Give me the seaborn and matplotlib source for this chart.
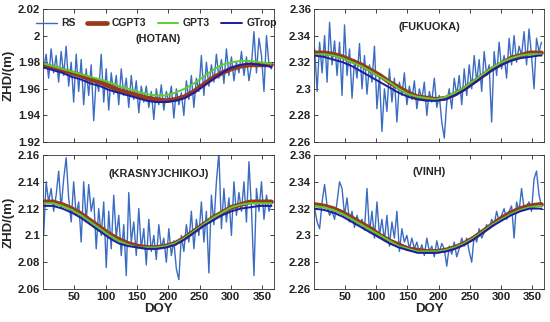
import numpy as np
import pandas as pd
import matplotlib
matplotlib.use("Agg")
import matplotlib.pyplot as plt
from matplotlib.ticker import FuncFormatter, MultipleLocator
import seaborn as sns

sns.set_theme(style="ticks")
plt.rcParams['font.family'] = ['Liberation Sans', 'DejaVu Sans']
plt.rcParams['font.weight'] = 'bold'

# ---------------- data ----------------
rs_days = list(range(1, 366, 4))
model_days = [1, 16, 31, 46, 61, 76, 91, 106, 121, 136, 151, 166, 181, 196,
              211, 226, 241, 256, 271, 286, 301, 316, 331, 346, 361, 365]

stations = ["HOTAN", "FUKUOKA", "KRASNYJCHIKOJ", "VINH"]
ylims = {"HOTAN": (1.92, 2.02), "FUKUOKA": (2.26, 2.36),
         "KRASNYJCHIKOJ": (2.06, 2.16), "VINH": (2.26, 2.36)}

rs_hotan = [1.975, 1.986, 1.968, 1.990, 1.972, 1.985, 1.965, 1.988, 1.970, 1.992,
            1.962, 1.980, 1.950, 1.986, 1.958, 1.982, 1.948, 1.975, 1.955, 1.978,
            1.936, 1.968, 1.958, 1.986, 1.950, 1.975, 1.944, 1.972, 1.956, 1.970,
            1.948, 1.975, 1.955, 1.968, 1.946, 1.970, 1.952, 1.966, 1.942, 1.962,
            1.950, 1.962, 1.946, 1.958, 1.937, 1.960, 1.948, 1.963, 1.944, 1.958,
            1.950, 1.962, 1.938, 1.960, 1.948, 1.957, 1.940, 1.966, 1.952, 1.970,
            1.946, 1.968, 1.958, 1.985, 1.955, 1.980, 1.962, 1.978, 1.965, 1.986,
            1.968, 1.982, 1.964, 1.990, 1.970, 1.984, 1.966, 1.980, 1.972, 1.988,
            1.970, 1.984, 1.966, 1.978, 2.003, 1.972, 1.998, 1.985, 1.958, 2.000,
            1.978, 1.975]
rs_fukuoka = [2.330, 2.298, 2.335, 2.312, 2.340, 2.305, 2.350, 2.318, 2.336, 2.310,
              2.335, 2.295, 2.348, 2.310, 2.330, 2.293, 2.322, 2.308, 2.334, 2.300,
              2.325, 2.296, 2.318, 2.305, 2.332, 2.285, 2.310, 2.268, 2.300, 2.283,
              2.315, 2.290, 2.308, 2.275, 2.305, 2.295, 2.312, 2.288, 2.302, 2.292,
              2.306, 2.285, 2.300, 2.292, 2.305, 2.280, 2.298, 2.290, 2.308, 2.286,
              2.295, 2.275, 2.263, 2.290, 2.300, 2.285, 2.308, 2.295, 2.310, 2.288,
              2.315, 2.295, 2.318, 2.300, 2.325, 2.305, 2.322, 2.298, 2.328, 2.310,
              2.318, 2.275, 2.328, 2.310, 2.335, 2.315, 2.325, 2.308, 2.338, 2.318,
              2.340, 2.320, 2.332, 2.325, 2.343, 2.318, 2.345, 2.325, 2.300, 2.338,
              2.328, 2.335]
rs_kras = [2.100, 2.140, 2.125, 2.135, 2.118, 2.130, 2.148, 2.120, 2.142, 2.158,
           2.128, 2.110, 2.140, 2.115, 2.125, 2.095, 2.140, 2.110, 2.138, 2.118,
           2.128, 2.090, 2.120, 2.100, 2.125, 2.076, 2.118, 2.090, 2.130, 2.098,
           2.115, 2.085, 2.108, 2.070, 2.132, 2.095, 2.110, 2.085, 2.120, 2.090,
           2.105, 2.078, 2.112, 2.088, 2.100, 2.082, 2.108, 2.090, 2.098, 2.080,
           2.105, 2.085, 2.096, 2.075, 2.067, 2.100, 2.088, 2.108, 2.095, 2.118,
           2.090, 2.112, 2.100, 2.125, 2.095, 2.118, 2.072, 2.130, 2.108, 2.140,
           2.162, 2.105, 2.135, 2.110, 2.128, 2.100, 2.140, 2.115, 2.132, 2.118,
           2.140, 2.110, 2.155, 2.120, 2.070, 2.135, 2.118, 2.140, 2.112, 2.130,
           2.118, 2.125]
rs_vinh = [2.320, 2.310, 2.305, 2.325, 2.338, 2.322, 2.315, 2.318, 2.312, 2.325,
           2.340, 2.335, 2.315, 2.328, 2.310, 2.318, 2.306, 2.315, 2.308, 2.312,
           2.304, 2.335, 2.302, 2.318, 2.298, 2.325, 2.300, 2.312, 2.296, 2.315,
           2.292, 2.310, 2.298, 2.318, 2.288, 2.305, 2.295, 2.300, 2.290, 2.298,
           2.290, 2.295, 2.287, 2.293, 2.285, 2.298, 2.288, 2.292, 2.284, 2.296,
           2.287, 2.294, 2.290, 2.277, 2.292, 2.286, 2.295, 2.284, 2.290, 2.298,
           2.292, 2.298, 2.288, 2.280, 2.300, 2.295, 2.305, 2.298, 2.302, 2.308,
           2.305, 2.312, 2.308, 2.318, 2.310, 2.315, 2.320, 2.312, 2.318, 2.322,
           2.298, 2.325, 2.318, 2.335, 2.320, 2.322, 2.325, 2.318, 2.342, 2.348,
           2.330, 2.322]

cgpt3_hotan = [1.978, 1.976, 1.974, 1.972, 1.970, 1.967, 1.965, 1.962, 1.959, 1.957, 1.955, 1.953, 1.952,
               1.951, 1.952, 1.954, 1.958, 1.963, 1.968, 1.972, 1.975, 1.977, 1.978, 1.978, 1.978, 1.978]
gpt3_hotan = [1.979, 1.977, 1.975, 1.973, 1.971, 1.969, 1.967, 1.965, 1.962, 1.960, 1.958, 1.956, 1.955,
              1.955, 1.957, 1.960, 1.964, 1.969, 1.974, 1.978, 1.980, 1.981, 1.981, 1.980, 1.979, 1.979]
gtrop_hotan = [1.976, 1.974, 1.972, 1.969, 1.967, 1.964, 1.962, 1.959, 1.957, 1.955, 1.953, 1.951, 1.950,
               1.950, 1.951, 1.953, 1.957, 1.962, 1.967, 1.972, 1.976, 1.978, 1.979, 1.978, 1.977, 1.976]

cgpt3_fukuoka = [2.327, 2.327, 2.326, 2.324, 2.321, 2.318, 2.314, 2.310, 2.305, 2.301, 2.297, 2.294, 2.293,
                 2.292, 2.293, 2.296, 2.300, 2.305, 2.310, 2.315, 2.319, 2.323, 2.325, 2.327, 2.327, 2.327]
gpt3_fukuoka = [2.326, 2.326, 2.325, 2.323, 2.320, 2.317, 2.313, 2.309, 2.305, 2.300, 2.296, 2.294, 2.293,
                2.292, 2.294, 2.297, 2.301, 2.306, 2.311, 2.316, 2.320, 2.323, 2.325, 2.326, 2.326, 2.326]
gtrop_fukuoka = [2.325, 2.324, 2.322, 2.320, 2.317, 2.313, 2.309, 2.305, 2.301, 2.297, 2.294, 2.292, 2.291,
                 2.291, 2.292, 2.295, 2.299, 2.304, 2.309, 2.314, 2.318, 2.321, 2.323, 2.324, 2.325, 2.325]

cgpt3_kras = [2.125, 2.125, 2.123, 2.120, 2.116, 2.111, 2.106, 2.101, 2.097, 2.094, 2.092, 2.091, 2.091,
              2.092, 2.094, 2.098, 2.103, 2.108, 2.113, 2.117, 2.121, 2.123, 2.125, 2.125, 2.125, 2.125]
gpt3_kras = [2.124, 2.124, 2.122, 2.119, 2.115, 2.110, 2.105, 2.100, 2.096, 2.093, 2.091, 2.091, 2.091,
             2.092, 2.094, 2.098, 2.103, 2.108, 2.113, 2.117, 2.121, 2.123, 2.124, 2.124, 2.124, 2.124]
gtrop_kras = [2.122, 2.122, 2.120, 2.117, 2.113, 2.108, 2.103, 2.098, 2.094, 2.092, 2.091, 2.090, 2.090,
              2.091, 2.093, 2.097, 2.102, 2.107, 2.111, 2.115, 2.118, 2.120, 2.121, 2.122, 2.122, 2.122]

cgpt3_vinh = [2.323, 2.322, 2.320, 2.317, 2.313, 2.309, 2.305, 2.300, 2.296, 2.293, 2.290, 2.289, 2.288,
              2.288, 2.289, 2.291, 2.294, 2.298, 2.303, 2.308, 2.313, 2.317, 2.320, 2.322, 2.323, 2.323]
gpt3_vinh = [2.322, 2.321, 2.319, 2.316, 2.312, 2.308, 2.304, 2.300, 2.296, 2.292, 2.290, 2.288, 2.288,
             2.288, 2.289, 2.291, 2.294, 2.298, 2.303, 2.308, 2.312, 2.316, 2.319, 2.321, 2.322, 2.322]
gtrop_vinh = [2.320, 2.319, 2.317, 2.314, 2.310, 2.306, 2.302, 2.298, 2.294, 2.291, 2.289, 2.287, 2.287,
              2.287, 2.288, 2.290, 2.293, 2.297, 2.302, 2.307, 2.311, 2.315, 2.318, 2.320, 2.320, 2.320]

rs_data = {"HOTAN": rs_hotan, "FUKUOKA": rs_fukuoka, "KRASNYJCHIKOJ": rs_kras, "VINH": rs_vinh}
cgpt3_data = {"HOTAN": cgpt3_hotan, "FUKUOKA": cgpt3_fukuoka, "KRASNYJCHIKOJ": cgpt3_kras, "VINH": cgpt3_vinh}
gpt3_data = {"HOTAN": gpt3_hotan, "FUKUOKA": gpt3_fukuoka, "KRASNYJCHIKOJ": gpt3_kras, "VINH": gpt3_vinh}
gtrop_data = {"HOTAN": gtrop_hotan, "FUKUOKA": gtrop_fukuoka, "KRASNYJCHIKOJ": gtrop_kras, "VINH": gtrop_vinh}

series_labels = ["RS", "CGPT3", "GPT3", "GTrop"]
colors = {"RS": "#3a6cc2", "CGPT3": "#963b1c", "GPT3": "#5ccf2e", "GTrop": "#1c1ca6"}
widths = {"RS": 1.0, "CGPT3": 3.4, "GPT3": 1.4, "GTrop": 1.4}

# ---------------- figure ----------------
fig = plt.figure(figsize=(5.5, 3.22), dpi=100)
positions = {
    "HOTAN": [43 / 550, 1 - 142 / 322, 231 / 550, 133 / 322],
    "FUKUOKA": [314 / 550, 1 - 142 / 322, 230 / 550, 133 / 322],
    "KRASNYJCHIKOJ": [43 / 550, 1 - 289 / 322, 231 / 550, 134 / 322],
    "VINH": [314 / 550, 1 - 289 / 322, 230 / 550, 134 / 322],
}
title_y = {"HOTAN": 0.69, "FUKUOKA": 0.78, "KRASNYJCHIKOJ": 0.77, "VINH": 0.79}
fmt = FuncFormatter(lambda v, p: f"{v:.2f}".rstrip("0").rstrip("."))
edge = "#333333"

for st in stations:
    ax = fig.add_axes(positions[st])
    df_rs = pd.DataFrame({"DOY": rs_days, "ZHD": rs_data[st]})
    sns.lineplot(data=df_rs, x="DOY", y="ZHD", ax=ax, color=colors["RS"],
                 lw=widths["RS"], label="RS", legend=False)
    for name, dd in (("CGPT3", cgpt3_data), ("GPT3", gpt3_data), ("GTrop", gtrop_data)):
        dfm = pd.DataFrame({"DOY": model_days, "ZHD": dd[st]})
        sns.lineplot(data=dfm, x="DOY", y="ZHD", ax=ax, color=colors[name],
                     lw=widths[name], label=name, legend=False)
    ax.set_xlim(0, 369)
    ax.set_ylim(*ylims[st])
    ax.set_xticks([50, 100, 150, 200, 250, 300, 350])
    ax.yaxis.set_major_locator(MultipleLocator(0.02))
    ax.yaxis.set_major_formatter(fmt)
    ax.tick_params(direction="in", top=True, right=True, length=3, width=0.6,
                   labelsize=8.2, colors="#222222", pad=2)
    for sp in ax.spines.values():
        sp.set_color(edge)
        sp.set_linewidth(0.6)
    for lab in ax.get_xticklabels() + ax.get_yticklabels():
        lab.set_fontweight("bold")
    ax.set_title(f"({st})", fontsize=7.8, fontweight="bold", y=title_y[st])
    if st in ("HOTAN", "FUKUOKA"):
        ax.set_xticklabels([])
        ax.set_xlabel("")
    else:
        ax.set_xlabel("DOY", fontsize=9.5, fontweight="bold", labelpad=1)
    if st in ("HOTAN", "KRASNYJCHIKOJ"):
        ax.set_ylabel("ZHD/(m)", fontsize=9.5, fontweight="bold", labelpad=2)
    else:
        ax.set_ylabel("")
    if st == "HOTAN":
        ax.legend(loc="upper center", ncol=4, frameon=False,
                  bbox_to_anchor=(0.49, 1.0), handlelength=2.0, columnspacing=1.1,
                  handletextpad=0.4, prop={"weight": "bold", "size": 7.5})

fig.savefig("out.png", dpi=100)
